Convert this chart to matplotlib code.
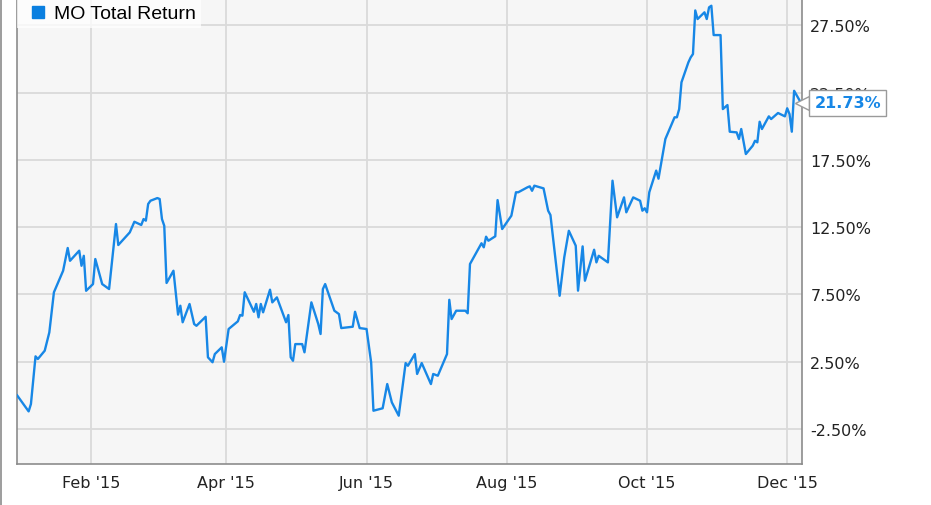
import matplotlib
matplotlib.use("Agg")
import matplotlib.pyplot as plt
import matplotlib.dates as mdates
import matplotlib.transforms as mtransforms
from matplotlib.lines import Line2D
import pandas as pd
from datetime import datetime

# MO total return (trading days, % since 31 Dec 2014)
dates = [
    "2014-12-31", "2015-01-05", "2015-01-06", "2015-01-08", "2015-01-09", "2015-01-12",
    "2015-01-14", "2015-01-16", "2015-01-20", "2015-01-22", "2015-01-23", "2015-01-27",
    "2015-01-28", "2015-01-29", "2015-01-30", "2015-02-02", "2015-02-03", "2015-02-06",
    "2015-02-09", "2015-02-12", "2015-02-13", "2015-02-18", "2015-02-20", "2015-02-23",
    "2015-02-24", "2015-02-25", "2015-02-26", "2015-02-27", "2015-03-02", "2015-03-03",
    "2015-03-04", "2015-03-05", "2015-03-06", "2015-03-09", "2015-03-11", "2015-03-12",
    "2015-03-13", "2015-03-16", "2015-03-18", "2015-03-19", "2015-03-23", "2015-03-24",
    "2015-03-26", "2015-03-27", "2015-03-30", "2015-03-31", "2015-04-02", "2015-04-06",
    "2015-04-07", "2015-04-08", "2015-04-09", "2015-04-13", "2015-04-14", "2015-04-15",
    "2015-04-16", "2015-04-17", "2015-04-20", "2015-04-21", "2015-04-23", "2015-04-27",
    "2015-04-28", "2015-04-29", "2015-04-30", "2015-05-01", "2015-05-04", "2015-05-05",
    "2015-05-08", "2015-05-11", "2015-05-12", "2015-05-13", "2015-05-14", "2015-05-18",
    "2015-05-20", "2015-05-21", "2015-05-26", "2015-05-27", "2015-05-29", "2015-06-01",
    "2015-06-02", "2015-06-03", "2015-06-04", "2015-06-08", "2015-06-10", "2015-06-12",
    "2015-06-15", "2015-06-18", "2015-06-19", "2015-06-22", "2015-06-23", "2015-06-25",
    "2015-06-29", "2015-06-30", "2015-07-02", "2015-07-06", "2015-07-07", "2015-07-08",
    "2015-07-10", "2015-07-14", "2015-07-15", "2015-07-16", "2015-07-20", "2015-07-21",
    "2015-07-22", "2015-07-23", "2015-07-24", "2015-07-27", "2015-07-28", "2015-07-30",
    "2015-08-03", "2015-08-05", "2015-08-06", "2015-08-10", "2015-08-11", "2015-08-12",
    "2015-08-13", "2015-08-17", "2015-08-19", "2015-08-20", "2015-08-24", "2015-08-26",
    "2015-08-28", "2015-08-31", "2015-09-01", "2015-09-03", "2015-09-04", "2015-09-08",
    "2015-09-09", "2015-09-10", "2015-09-14", "2015-09-16", "2015-09-18", "2015-09-21",
    "2015-09-22", "2015-09-25", "2015-09-28", "2015-09-29", "2015-09-30", "2015-10-01",
    "2015-10-02", "2015-10-05", "2015-10-06", "2015-10-09", "2015-10-13", "2015-10-14",
    "2015-10-15", "2015-10-16", "2015-10-19", "2015-10-20", "2015-10-21", "2015-10-22",
    "2015-10-23", "2015-10-26", "2015-10-27", "2015-10-28", "2015-10-29", "2015-10-30",
    "2015-11-02", "2015-11-03", "2015-11-05", "2015-11-06", "2015-11-09", "2015-11-10",
    "2015-11-11", "2015-11-13", "2015-11-16", "2015-11-17", "2015-11-18", "2015-11-19",
    "2015-11-20", "2015-11-23", "2015-11-24", "2015-11-27", "2015-11-30", "2015-12-01",
    "2015-12-02", "2015-12-03", "2015-12-04", "2015-12-07",
]
values = [
    0.00, -1.19, -0.64, 2.90, 2.70, 3.32,
    4.68, 7.66, 9.26, 10.95, 10.00, 10.75,
    9.63, 10.37, 7.77, 8.27, 10.13, 8.27,
    7.90, 12.73, 11.17, 12.11, 12.90, 12.66,
    13.10, 12.98, 14.22, 14.46, 14.66, 14.59,
    13.10, 12.60, 8.35, 9.26, 6.00, 6.66,
    5.43, 6.79, 5.30, 5.17, 5.84, 2.83,
    2.46, 3.07, 3.57, 2.50, 4.93, 5.50,
    5.97, 5.92, 7.66, 6.21, 6.79, 5.80,
    6.79, 6.17, 7.85, 6.91, 7.28, 5.43,
    5.97, 2.83, 2.57, 3.81, 3.81, 3.20,
    6.91, 5.30, 4.56, 7.90, 8.27, 6.29,
    6.04, 5.00, 5.10, 6.21, 5.00, 4.93,
    3.69, 2.45, -1.14, -0.96, 0.84, -0.52,
    -1.51, 2.40, 2.20, 3.07, 1.59, 2.40,
    0.84, 1.59, 1.46, 3.07, 7.10, 5.67,
    6.29, 6.29, 6.10, 9.76, 11.00, 11.30,
    11.00, 11.79, 11.49, 11.82, 14.51, 12.36,
    13.35, 15.09, 15.09, 15.46, 15.53, 15.20,
    15.58, 15.38, 13.72, 13.40, 7.40, 10.25,
    12.23, 11.12, 7.78, 11.07, 8.52, 10.82,
    9.88, 10.37, 9.88, 15.95, 13.23, 14.71,
    13.60, 14.71, 14.46, 13.72, 13.90, 13.60,
    15.09, 16.70, 16.10, 19.05, 20.66, 20.66,
    21.27, 23.26, 24.74, 25.11, 25.36, 28.60,
    27.96, 28.46, 27.96, 28.83, 28.95, 26.77,
    26.77, 21.27, 21.57, 19.59, 19.54, 19.05,
    19.79, 17.93, 18.55, 18.92, 18.80, 20.33,
    19.79, 20.73, 20.53, 20.98, 20.73, 21.33,
    20.90, 19.59, 22.63, 21.73,
]
series_name = "MO Total Return"
y_ticks = [-2.5, 2.5, 7.5, 12.5, 17.5, 22.5, 27.5]

line_color = "#1787e6"
x = pd.to_datetime(dates)

fig = plt.figure(figsize=(9.31, 5.06), dpi=100)
ax = fig.add_axes([0.018, 0.081, 0.8434, 0.919])
ax.set_facecolor("#f6f6f6")

ax.plot(x, values, color=line_color, linewidth=1.7, label=series_name, zorder=3)

ax.set_xlim(datetime(2014, 12, 30, 20), datetime(2015, 12, 7, 10))
ax.set_ylim(-5.1, 29.45)

ax.xaxis.set_major_locator(mdates.MonthLocator(bymonth=[2, 4, 6, 8, 10, 12]))
ax.xaxis.set_major_formatter(mdates.DateFormatter("%b '%y"))
ax.set_yticks(y_ticks)
ax.set_yticklabels(["%.2f%%" % v for v in y_ticks])
ax.yaxis.tick_right()

ax.grid(True, color="#dadada", linewidth=1.3)
ax.set_axisbelow(True)
ax.tick_params(axis="both", length=0, labelsize=11.5, labelcolor="#222222")
ax.tick_params(axis="y", pad=6)
ax.tick_params(axis="x", pad=8)
for lab in ax.get_xticklabels() + ax.get_yticklabels():
    lab.set_fontfamily("DejaVu Sans")

for side in ["left", "bottom", "right"]:
    ax.spines[side].set_color("#8c8c8c")
    ax.spines[side].set_linewidth(1.2)
ax.spines["top"].set_visible(False)

# legend box top left
handle = Line2D([], [], marker="s", linestyle="none", color="#0a7fe0", markersize=9)
leg = ax.legend([handle], [series_name], loc="upper left", frameon=True,
                borderaxespad=0.0, handletextpad=0.0, handlelength=1.6,
                borderpad=0.3, prop={"family": "Liberation Sans", "size": 14})
leg.get_frame().set_facecolor("white")
leg.get_frame().set_alpha(0.75)
leg.get_frame().set_edgecolor("none")
leg.get_frame().set_boxstyle("square", pad=0.0)

# last value callout on the right axis
last = values[-1]
trans = mtransforms.blended_transform_factory(ax.transAxes, ax.transData)
ax.plot([1.0], [last], marker="<", markersize=10, markerfacecolor="white",
        markeredgecolor="#9a9a9a", transform=trans, clip_on=False, zorder=4)
ax.text(1.016, last, "%.2f%%" % last, transform=trans, ha="left", va="center",
        color=line_color, fontsize=11.5, fontweight="bold", family="DejaVu Sans",
        zorder=5, bbox=dict(boxstyle="square,pad=0.32", facecolor="white",
                            edgecolor="#9a9a9a", linewidth=1.0))

# thin frame line at the far left of the image
fig.add_artist(Line2D([0.001, 0.001], [0, 1], color="#8c8c8c", linewidth=1.2,
                      transform=fig.transFigure))

fig.savefig("out.png", dpi=100)
